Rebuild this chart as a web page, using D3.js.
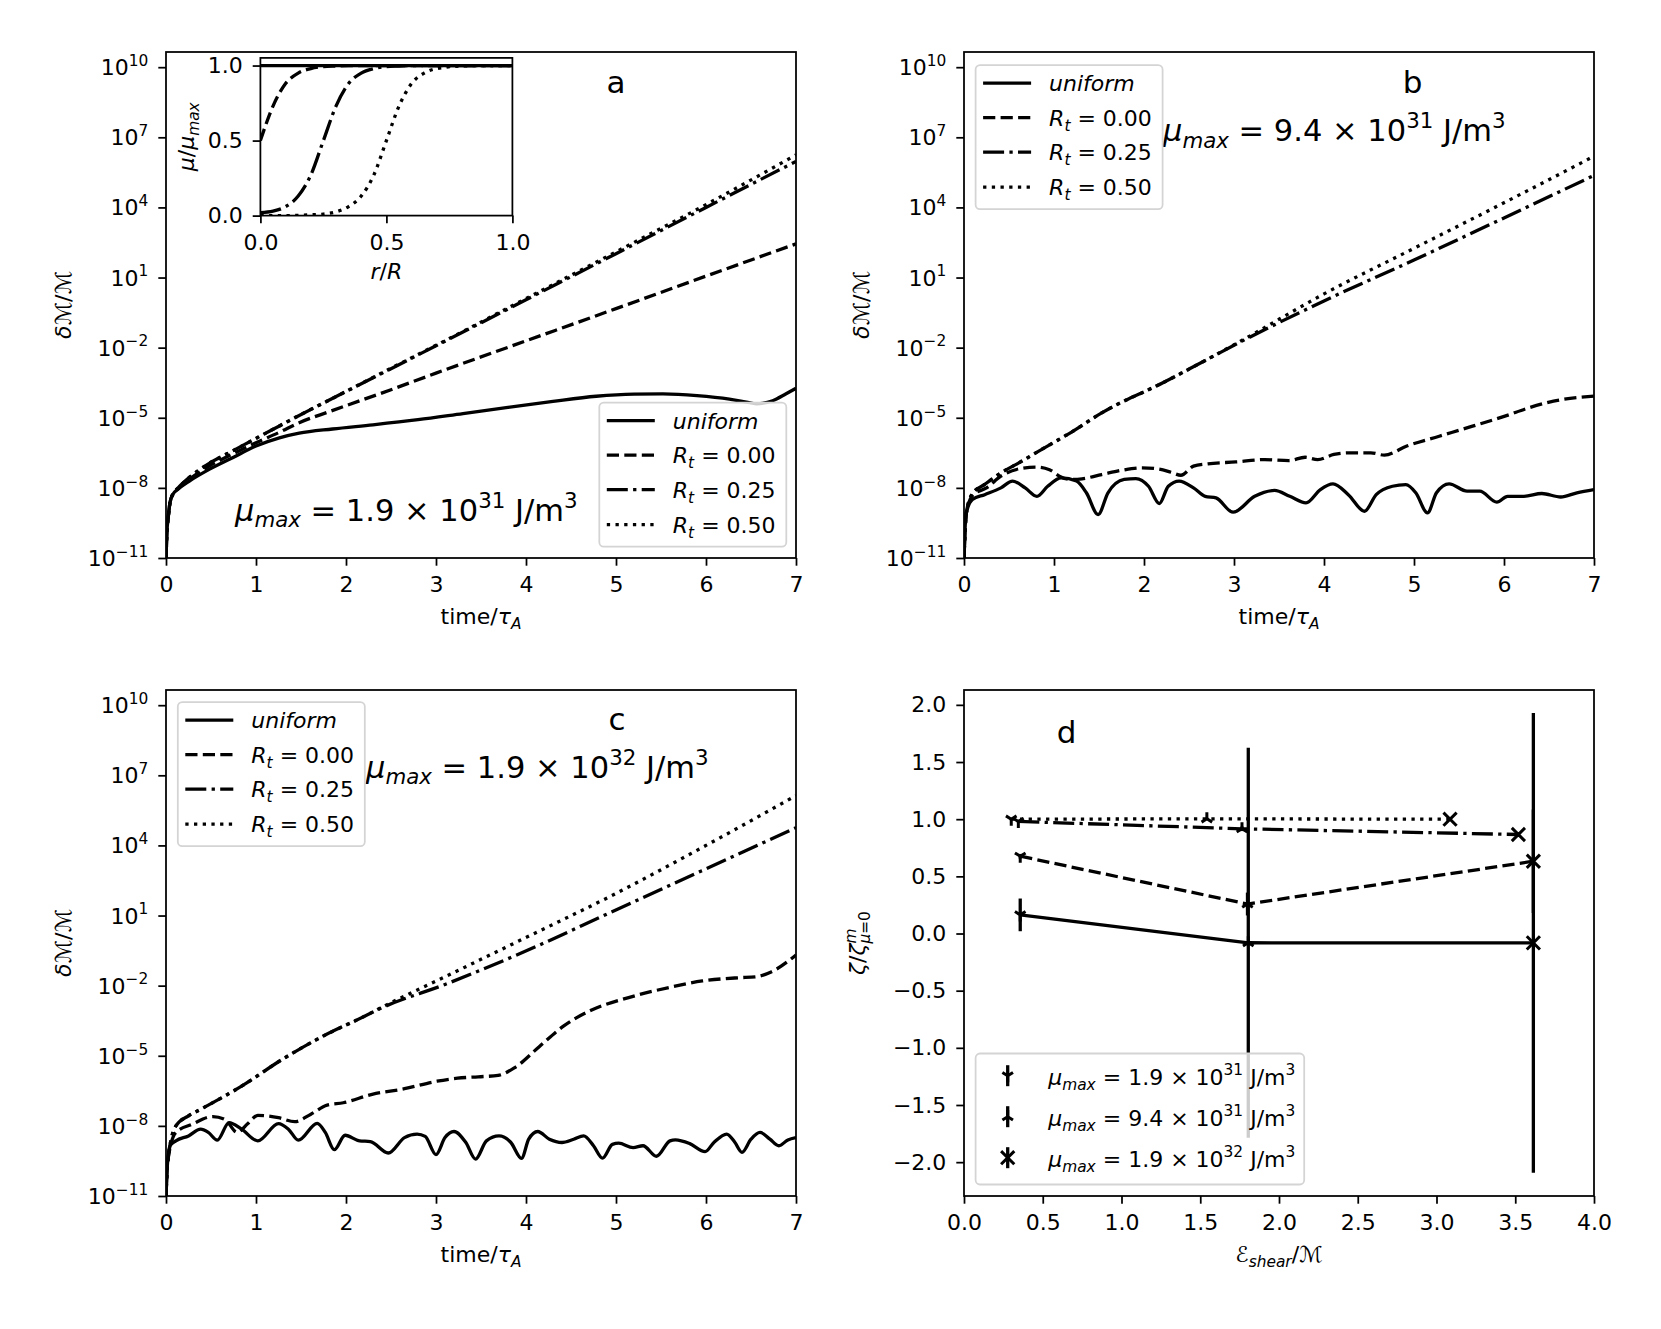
<!DOCTYPE html>
<html>
<head>
<meta charset="utf-8">
<script src="https://cdn.jsdelivr.net/npm/d3@7"></script>
<style>
  body { margin: 0; background: #fff; }
  svg { font-family: "DejaVu Sans", sans-serif; }
</style>
</head>
<body>
<div id="chart"></div>
<script>
// ---- data (log10 of dM/M) ----
// panel a, mu_max = 1.9e31
const tA_uni = [0, 0.01, 0.026, 0.044, 0.074, 0.13, 0.26, 0.48, 0.74, 1.0, 1.26, 1.48, 1.85, 2.3, 2.8, 3.3, 3.8, 4.3, 4.78, 5.2, 5.52, 5.9, 6.26, 6.45, 6.56, 6.74, 6.89, 7.0];
const logA_uni = [-11, -9.93, -9.21, -8.64, -8.29, -8.07, -7.71, -7.21, -6.71, -6.21, -5.86, -5.66, -5.48, -5.3, -5.08, -4.82, -4.56, -4.3, -4.08, -3.99, -3.98, -4.05, -4.2, -4.33, -4.4, -4.27, -3.97, -3.74];
const tA_rt = [0, 0.01, 0.026, 0.044, 0.074, 0.13, 0.26, 0.48, 0.74, 1.0, 1.26, 1.48, 1.82, 2.5, 3.0, 4.0, 5.0, 6.0, 7.0];
const logA_rt000 = [-11, -9.93, -9.21, -8.64, -8.29, -8.05, -7.63, -7.07, -6.55, -6.07, -5.62, -5.21, -4.73, -3.8, -3.09, -1.71, -0.33, 1.06, 2.44];
const logA_rt025 = [-11, -9.93, -9.21, -8.64, -8.29, -8.02, -7.55, -6.95, -6.42, -5.88, -5.35, -4.9, -4.23, -2.9, -1.92, 0.05, 2.02, 4.0, 5.97];
const logA_rt050 = [-11, -9.93, -9.21, -8.64, -8.29, -8.02, -7.55, -6.95, -6.42, -5.88, -5.35, -4.9, -4.23, -2.88, -1.9, 0.1, 2.1, 4.12, 6.25];

// panel b, mu_max = 9.4e31
const tB_uni = [0, 0.01, 0.026, 0.094, 0.23, 0.41, 0.54, 0.68, 0.81, 0.93, 1.08, 1.25, 1.36, 1.49, 1.60, 1.78, 1.91, 2.05, 2.17, 2.27, 2.39, 2.55, 2.68, 2.80, 2.99, 3.23, 3.45, 3.62, 3.80, 3.96, 4.10, 4.27, 4.45, 4.58, 4.76, 4.91, 5.02, 5.15, 5.25, 5.39, 5.59, 5.73, 5.92, 6.04, 6.22, 6.42, 6.63, 6.81, 7.0];
const logB_uni = [-11, -9.9, -9.07, -8.5, -8.29, -8.0, -7.71, -8.0, -8.36, -7.93, -7.57, -7.71, -8.21, -9.14, -8.21, -7.64, -7.6, -7.93, -8.67, -7.93, -7.71, -8.0, -8.36, -8.43, -9.04, -8.36, -8.11, -8.36, -8.64, -8.07, -7.83, -8.29, -9.0, -8.29, -7.93, -7.86, -8.21, -9.07, -8.21, -7.83, -8.14, -8.14, -8.61, -8.36, -8.36, -8.24, -8.39, -8.21, -8.07];
const tB_rt000 = [0, 0.026, 0.1, 0.25, 0.41, 0.63, 0.81, 0.95, 1.06, 1.18, 1.31, 1.53, 1.76, 1.98, 2.16, 2.30, 2.41, 2.55, 2.71, 3.02, 3.34, 3.61, 3.79, 3.93, 4.11, 4.29, 4.52, 4.67, 4.92, 5.28, 5.65, 6.01, 6.28, 6.55, 7.0];
const logB_rt000 = [-11, -9.07, -8.3, -8.0, -7.5, -7.17, -7.11, -7.22, -7.5, -7.64, -7.61, -7.43, -7.24, -7.14, -7.19, -7.33, -7.46, -7.07, -6.97, -6.89, -6.79, -6.83, -6.69, -6.79, -6.57, -6.5, -6.5, -6.6, -6.21, -5.79, -5.36, -4.93, -4.57, -4.29, -4.07];
const tB_rt = [0, 0.026, 0.094, 0.23, 0.41, 0.6, 0.86, 1.2, 1.53, 2.21, 2.67, 3.13, 4.0, 5.0, 6.0, 7.0];
const logB_rt025 = [-11, -9.07, -8.25, -7.85, -7.36, -6.95, -6.36, -5.6, -4.79, -3.5, -2.57, -1.64, 0.0, 1.75, 3.55, 5.37];
const logB_rt050 = [-11, -9.07, -8.25, -7.85, -7.36, -6.95, -6.36, -5.6, -4.79, -3.5, -2.57, -1.6, 0.3, 2.25, 4.2, 6.19];

// panel c, mu_max = 1.9e32
const tC_uni = [0, 0.01, 0.045, 0.11, 0.25, 0.385, 0.47, 0.57, 0.70, 0.84, 1.02, 1.25, 1.36, 1.47, 1.68, 1.77, 1.87, 1.99, 2.15, 2.27, 2.47, 2.65, 2.79, 2.88, 3.0, 3.10, 3.2, 3.33, 3.44, 3.56, 3.70, 3.83, 3.95, 4.03, 4.13, 4.26, 4.40, 4.53, 4.64, 4.75, 4.85, 4.96, 5.03, 5.19, 5.30, 5.45, 5.60, 5.66, 5.82, 5.99, 6.09, 6.23, 6.32, 6.40, 6.5, 6.60, 6.71, 6.81, 6.91, 7.0];
const logC_uni = [-11, -10.0, -8.85, -8.64, -8.43, -8.14, -8.28, -8.61, -7.86, -8.14, -8.64, -7.9, -8.14, -8.61, -7.89, -8.28, -9.02, -8.4, -8.64, -8.67, -9.16, -8.5, -8.35, -8.45, -9.23, -8.5, -8.24, -8.7, -9.42, -8.64, -8.43, -8.7, -9.39, -8.57, -8.24, -8.57, -8.71, -8.57, -8.43, -8.85, -9.38, -8.79, -8.74, -8.93, -8.85, -9.3, -8.64, -8.6, -8.76, -9.1, -8.7, -8.35, -8.7, -9.13, -8.57, -8.28, -8.57, -8.85, -8.6, -8.5];
const tC_rt000 = [0, 0.02, 0.11, 0.29, 0.52, 0.66, 0.79, 0.91, 1.02, 1.25, 1.43, 1.61, 1.79, 1.97, 2.29, 2.65, 3.01, 3.24, 3.47, 3.69, 3.87, 4.15, 4.42, 4.73, 5.14, 5.60, 5.96, 6.37, 6.55, 6.73, 7.0];
const logC_rt000 = [-11, -9.5, -8.28, -7.93, -7.6, -7.74, -8.28, -7.9, -7.55, -7.65, -7.82, -7.5, -7.11, -7.01, -6.65, -6.41, -6.09, -5.96, -5.9, -5.84, -5.52, -4.6, -3.72, -3.04, -2.51, -2.07, -1.8, -1.66, -1.62, -1.4, -0.69];
const tC_rt = [0, 0.02, 0.11, 0.25, 0.385, 0.84, 1.29, 1.74, 2.2, 2.38, 3.1, 4.01, 4.92, 6.0, 7.0];
const logC_rt025 = [-11, -9.5, -8.0, -7.57, -7.29, -6.3, -5.16, -4.17, -3.32, -2.98, -1.95, -0.5, 1.1, 3.0, 4.76];
const logC_rt050 = [-11, -9.5, -8.0, -7.57, -7.29, -6.3, -5.16, -4.17, -3.32, -2.96, -1.62, 0.08, 1.79, 4.0, 6.13];

// inset: mu/mu_max profiles against r/R
const rInset = [0, 0.05, 0.1, 0.15, 0.2, 0.25, 0.3, 0.35, 0.4, 0.45, 0.5, 0.55, 0.6, 0.65, 0.7, 0.8, 0.9, 1.0];
const muUni = [1, 1, 1, 1, 1, 1, 1, 1, 1, 1, 1, 1, 1, 1, 1, 1, 1, 1];
const muRt000 = [0.5, 0.73, 0.88, 0.95, 0.98, 0.993, 0.997, 1, 1, 1, 1, 1, 1, 1, 1, 1, 1, 1];
const muRt025 = [0.02, 0.03, 0.06, 0.13, 0.27, 0.5, 0.73, 0.88, 0.95, 0.98, 0.993, 0.997, 1, 1, 1, 1, 1, 1];
const muRt050 = [0, 0, 0, 0.002, 0.005, 0.01, 0.025, 0.06, 0.13, 0.27, 0.5, 0.73, 0.88, 0.95, 0.98, 0.997, 1, 1];

// panel d: zeta ratio vs E_shear/M, one point per mu_max, with error bars
const dX_uni = [0.357, 1.805, 3.615], dY_uni = [0.163, -0.081, -0.082], dErr_uni = [0.143, 1.705, 2.01];
const dX_rt000 = [0.357, 1.80, 3.615], dY_rt000 = [0.676, 0.258, 0.632], dErr_rt000 = [0.02, 0.1, 0.453];
const dX_rt025 = [0.345, 1.765, 3.52], dY_rt025 = [0.98, 0.916, 0.866], dErr_rt025 = [0.01, 0.02, 0.02];
const dX_rt050 = [0.30, 1.542, 3.086], dY_rt050 = [1.0, 1.003, 1.0], dErr_rt050 = [0.01, 0.01, 0.01];

// labels and ticks
const rtLabels = ["0.00", "0.25", "0.50"];
const muMantissa = ["1.9", "9.4", "1.9"];
const muExponent = ["31", "31", "32"];
const muMarkers = ["tri_down", "tri_up", "x"];
const timeTicks = [0, 1, 2, 3, 4, 5, 6, 7];
const logTickExp = [-11, -8, -5, -2, 1, 4, 7, 10];
const insetTicks = [0, 0.5, 1.0];
const shearTicks = [0, 0.5, 1.0, 1.5, 2.0, 2.5, 3.0, 3.5, 4.0];
const zetaTicks = [-2.0, -1.5, -1.0, -0.5, 0.0, 0.5, 1.0, 1.5, 2.0];

// ---- layout ----
const FIG_W = 1661, FIG_H = 1329;
const AX_W = 630, AX_H = 506;
const FONT = 22;
const LW = 3.3;
const SPINE = 1.76;
const TICK = 7.7;
const DASH = { solid: null, dashed: "12.2,5.3", dashdot: "21,5.3,3.3,5.3", dotted: "3.3,5.4" };
const STYLES = ["solid", "dashed", "dashdot", "dotted"];

const svg = d3.select("#chart").append("svg")
    .attr("width", FIG_W)
    .attr("height", FIG_H);

svg.append("rect").attr("width", FIG_W).attr("height", FIG_H).style("fill", "#fff");

// text with italic / sub / superscript pieces: [text, flags, dx]
function rich(parent, x, y, parts, size, anchor = "start") {
    const t = parent.append("text")
        .attr("x", x)
        .attr("y", y)
        .attr("text-anchor", anchor)
        .style("font-size", size + "px")
        .style("fill", "#000")
        .style("white-space", "pre");
    let shift = 0;
    parts.forEach(([s, f = "", dx = 0]) => {
        const small = f.includes("s") || f.includes("p");
        const off = f.includes("s") ? size * 0.22 : f.includes("p") ? -size * 0.42 : 0;
        t.append("tspan")
            .attr("dy", off - shift)
            .attr("dx", dx)
            .style("font-size", (small ? size * 0.7 : size) + "px")
            .style("font-style", f.includes("i") ? "italic" : "normal")
            .text(s);
        shift = off;
    });
    return t;
}

function styleAxis(sel) {
    sel.attr("font-family", null).attr("font-size", null);
    sel.select(".domain").remove();
    sel.selectAll(".tick line").style("stroke", "#000").style("stroke-width", SPINE);
    sel.selectAll(".tick text").style("font-size", FONT + "px").style("fill", "#000");
}

function lineStyle(sel, style) {
    sel.style("fill", "none")
        .style("stroke", "#000")
        .style("stroke-width", LW)
        .style("stroke-linejoin", "round")
        .style("stroke-dasharray", DASH[style]);
}

function rtLabel(i) {
    if (i === 0) return [["uniform", "i"]];
    return [["R", "i"], ["t", "is"], [" = " + rtLabels[i - 1]]];
}

function muLabel(i) {
    return [["μ", "i"], ["max", "is"], [" = " + muMantissa[i] + " × 10"], [muExponent[i], "p"], [" J/m"], ["3", "p"]];
}

function lineLegend(g, bx, by) {
    const rows = [18, 52.5, 87, 122];
    const lg = g.append("g").attr("transform", `translate(${bx},${by})`);
    lg.append("rect")
        .attr("width", 187).attr("height", 144).attr("rx", 4.4)
        .style("fill", "#fff").style("fill-opacity", 0.8)
        .style("stroke", "#d4d4d4").style("stroke-width", SPINE);
    STYLES.forEach((s, i) => {
        lg.append("line")
            .attr("x1", 7.5).attr("x2", 55.5)
            .attr("y1", rows[i]).attr("y2", rows[i])
            .call(lineStyle, s);
        rich(lg, 73.5, rows[i] + 8, rtLabel(i), FONT);
    });
}

function logTickLabels(axisG) {
    axisG.selectAll(".tick").each(function (d) {
        const e = Math.round(Math.log10(d));
        const txt = (e < 0 ? "\u2212" : "") + Math.abs(e);
        rich(d3.select(this), -(TICK + 10), 7.5, [["10"], [txt, "p"]], FONT, "end");
    });
}

// ---- growth panels a, b, c ----
function drawGrowth(cfg) {
    const g = svg.append("g").attr("transform", `translate(${cfg.left},${cfg.top})`);
    const x = d3.scaleLinear().domain([0, 7]).range([0, AX_W]);
    const y = d3.scaleLog().domain([1e-11, Math.pow(10, 10.65)]).range([AX_H, 0]);

    const clipId = "clip-" + cfg.letter;
    g.append("clipPath").attr("id", clipId)
        .append("rect").attr("width", AX_W).attr("height", AX_H);

    const line = d3.line()
        .x(d => x(d[0]))
        .y(d => y(Math.pow(10, d[1])))
        .curve(d3.curveMonotoneX);

    cfg.series.forEach((s, i) => {
        g.append("path")
            .datum(d3.zip(s.t, s.v))
            .attr("d", line)
            .attr("clip-path", `url(#${clipId})`)
            .call(lineStyle, STYLES[i]);
    });

    const xAxis = g.append("g")
        .attr("transform", `translate(0,${AX_H})`)
        .call(d3.axisBottom(x).tickValues(timeTicks).tickSize(TICK).tickPadding(11).tickFormat(d3.format("d")));
    styleAxis(xAxis);

    const yAxis = g.append("g")
        .call(d3.axisLeft(y).tickValues(logTickExp.map(e => Math.pow(10, e))).tickSize(TICK).tickFormat(""));
    styleAxis(yAxis);
    logTickLabels(yAxis);

    g.append("rect")
        .attr("width", AX_W).attr("height", AX_H)
        .style("fill", "none").style("stroke", "#000").style("stroke-width", SPINE);

    rich(g, AX_W / 2, AX_H + 66, [["time/"], ["τ", "i"], ["A", "is"]], FONT, "middle");
    rich(g, 0, 0, [["δ", "i"], ["ℳ"], ["/"], ["ℳ"]], FONT, "middle")
        .attr("transform", `translate(-95,${AX_H / 2}) rotate(-90)`);

    rich(g, cfg.letterPos[0], cfg.letterPos[1], [[cfg.letter]], 31, "middle");
    rich(g, cfg.muPos[0], cfg.muPos[1], muLabel(cfg.mu), 30.5);

    lineLegend(g, cfg.legendPos[0], cfg.legendPos[1]);
    return g;
}

function drawInset(parent) {
    const w = 252, h = 157.7;
    const g = parent.append("g").attr("transform", "translate(94.4,5.9)");
    const x = d3.scaleLinear().domain([0, 1]).range([0, w]);
    const y = d3.scaleLinear().domain([0, 1.051]).range([h, 0]);

    g.append("rect").attr("width", w).attr("height", h).style("fill", "#fff");
    g.append("clipPath").attr("id", "clip-inset")
        .append("rect").attr("width", w).attr("height", h);

    const line = d3.line().x(d => x(d[0])).y(d => y(d[1])).curve(d3.curveMonotoneX);
    [muUni, muRt000, muRt025, muRt050].forEach((m, i) => {
        g.append("path")
            .datum(d3.zip(rInset, m))
            .attr("d", line)
            .attr("clip-path", "url(#clip-inset)")
            .call(lineStyle, STYLES[i]);
    });

    const xa = g.append("g").attr("transform", `translate(0,${h})`)
        .call(d3.axisBottom(x).tickValues(insetTicks).tickSize(TICK).tickPadding(11).tickFormat(d3.format(".1f")));
    styleAxis(xa);
    const ya = g.append("g")
        .call(d3.axisLeft(y).tickValues(insetTicks).tickSize(TICK).tickPadding(10).tickFormat(d3.format(".1f")));
    styleAxis(ya);

    g.append("rect").attr("width", w).attr("height", h)
        .style("fill", "none").style("stroke", "#000").style("stroke-width", SPINE);

    rich(g, w / 2, h + 63.5, [["r", "i"], ["/"], ["R", "i"]], FONT, "middle");
    rich(g, 0, 0, [["μ", "i"], ["/"], ["μ", "i"], ["max", "is"]], FONT, "middle")
        .attr("transform", `translate(-66.4,${h / 2}) rotate(-90)`);
}

const panelA = drawGrowth({
    letter: "a", left: 166, top: 52, mu: 0,
    series: [
        { t: tA_uni, v: logA_uni }, { t: tA_rt, v: logA_rt000 },
        { t: tA_rt, v: logA_rt025 }, { t: tA_rt, v: logA_rt050 }
    ],
    letterPos: [450, 41], muPos: [69, 468.7], legendPos: [433.3, 350.7]
});
drawInset(panelA);

drawGrowth({
    letter: "b", left: 964, top: 52, mu: 1,
    series: [
        { t: tB_uni, v: logB_uni }, { t: tB_rt000, v: logB_rt000 },
        { t: tB_rt, v: logB_rt025 }, { t: tB_rt, v: logB_rt050 }
    ],
    letterPos: [448.7, 41], muPos: [199, 89], legendPos: [11.6, 13.2]
});

drawGrowth({
    letter: "c", left: 166, top: 690, mu: 2,
    series: [
        { t: tC_uni, v: logC_uni }, { t: tC_rt000, v: logC_rt000 },
        { t: tC_rt, v: logC_rt025 }, { t: tC_rt, v: logC_rt050 }
    ],
    letterPos: [451, 40], muPos: [200, 87.6], legendPos: [11.8, 12.2]
});

// ---- panel d ----
function markerPath(kind) {
    if (kind === "tri_down") return "M0,0L0,6.6M0,0L5.3,-3.3M0,0L-5.3,-3.3";
    if (kind === "tri_up") return "M0,0L0,-6.6M0,0L5.3,3.3M0,0L-5.3,3.3";
    return "M-6.6,-6.6L6.6,6.6M-6.6,6.6L6.6,-6.6";
}

function drawShear() {
    const g = svg.append("g").attr("transform", "translate(964,690)");
    const x = d3.scaleLinear().domain([0, 4]).range([0, AX_W]);
    const y = d3.scaleLinear().domain([-2.296, 2.13]).range([AX_H, 0]);

    const series = [
        { x: dX_uni, y: dY_uni, e: dErr_uni },
        { x: dX_rt000, y: dY_rt000, e: dErr_rt000 },
        { x: dX_rt025, y: dY_rt025, e: dErr_rt025 },
        { x: dX_rt050, y: dY_rt050, e: dErr_rt050 }
    ];

    const line = d3.line().x(d => x(d[0])).y(d => y(d[1]));
    series.forEach((s, i) => {
        g.append("path")
            .datum(d3.zip(s.x, s.y))
            .attr("d", line)
            .call(lineStyle, STYLES[i]);
    });

    series.forEach(s => {
        s.x.forEach((xv, j) => {
            g.append("line")
                .attr("x1", x(xv)).attr("x2", x(xv))
                .attr("y1", y(s.y[j] - s.e[j])).attr("y2", y(s.y[j] + s.e[j]))
                .style("stroke", "#000").style("stroke-width", LW);
            g.append("path")
                .attr("d", markerPath(muMarkers[j]))
                .attr("transform", `translate(${x(xv)},${y(s.y[j])})`)
                .style("fill", "none").style("stroke", "#000").style("stroke-width", 3);
        });
    });

    const xa = g.append("g").attr("transform", `translate(0,${AX_H})`)
        .call(d3.axisBottom(x).tickValues(shearTicks).tickSize(TICK).tickPadding(11).tickFormat(d3.format(".1f")));
    styleAxis(xa);
    const ya = g.append("g")
        .call(d3.axisLeft(y).tickValues(zetaTicks).tickSize(TICK).tickPadding(10).tickFormat(d3.format(".1f")));
    styleAxis(ya);

    g.append("rect").attr("width", AX_W).attr("height", AX_H)
        .style("fill", "none").style("stroke", "#000").style("stroke-width", SPINE);

    rich(g, AX_W / 2, AX_H + 66, [["ℰ"], ["shear", "is"], ["/ℳ"]], FONT, "middle");
    rich(g, 0, 0, [["ζ", "i"], ["/"], ["ζ", "i"], ["m", "ip"], ["μ", "is", -15], ["=0", "s"]], FONT, "middle")
        .attr("transform", `translate(-99,${AX_H / 2}) rotate(-90)`);

    rich(g, 102.7, 53, [["d"]], 31, "middle");

    // legend
    const rows = [22.2, 63.2, 104.2];
    const lg = g.append("g").attr("transform", "translate(11.6,363.5)");
    lg.append("rect")
        .attr("width", 328.6).attr("height", 131).attr("rx", 4.4)
        .style("fill", "#fff").style("fill-opacity", 0.8)
        .style("stroke", "#d4d4d4").style("stroke-width", SPINE);
    muMarkers.forEach((m, i) => {
        lg.append("line")
            .attr("x1", 32.1).attr("x2", 32.1)
            .attr("y1", rows[i] - 10.5).attr("y2", rows[i] + 10.5)
            .style("stroke", "#000").style("stroke-width", LW);
        lg.append("path")
            .attr("d", markerPath(m))
            .attr("transform", `translate(32.1,${rows[i]})`)
            .style("fill", "none").style("stroke", "#000").style("stroke-width", 3);
        rich(lg, 72.6, rows[i] + 9, muLabel(i), FONT);
    });
}

drawShear();
</script>
</body>
</html>
